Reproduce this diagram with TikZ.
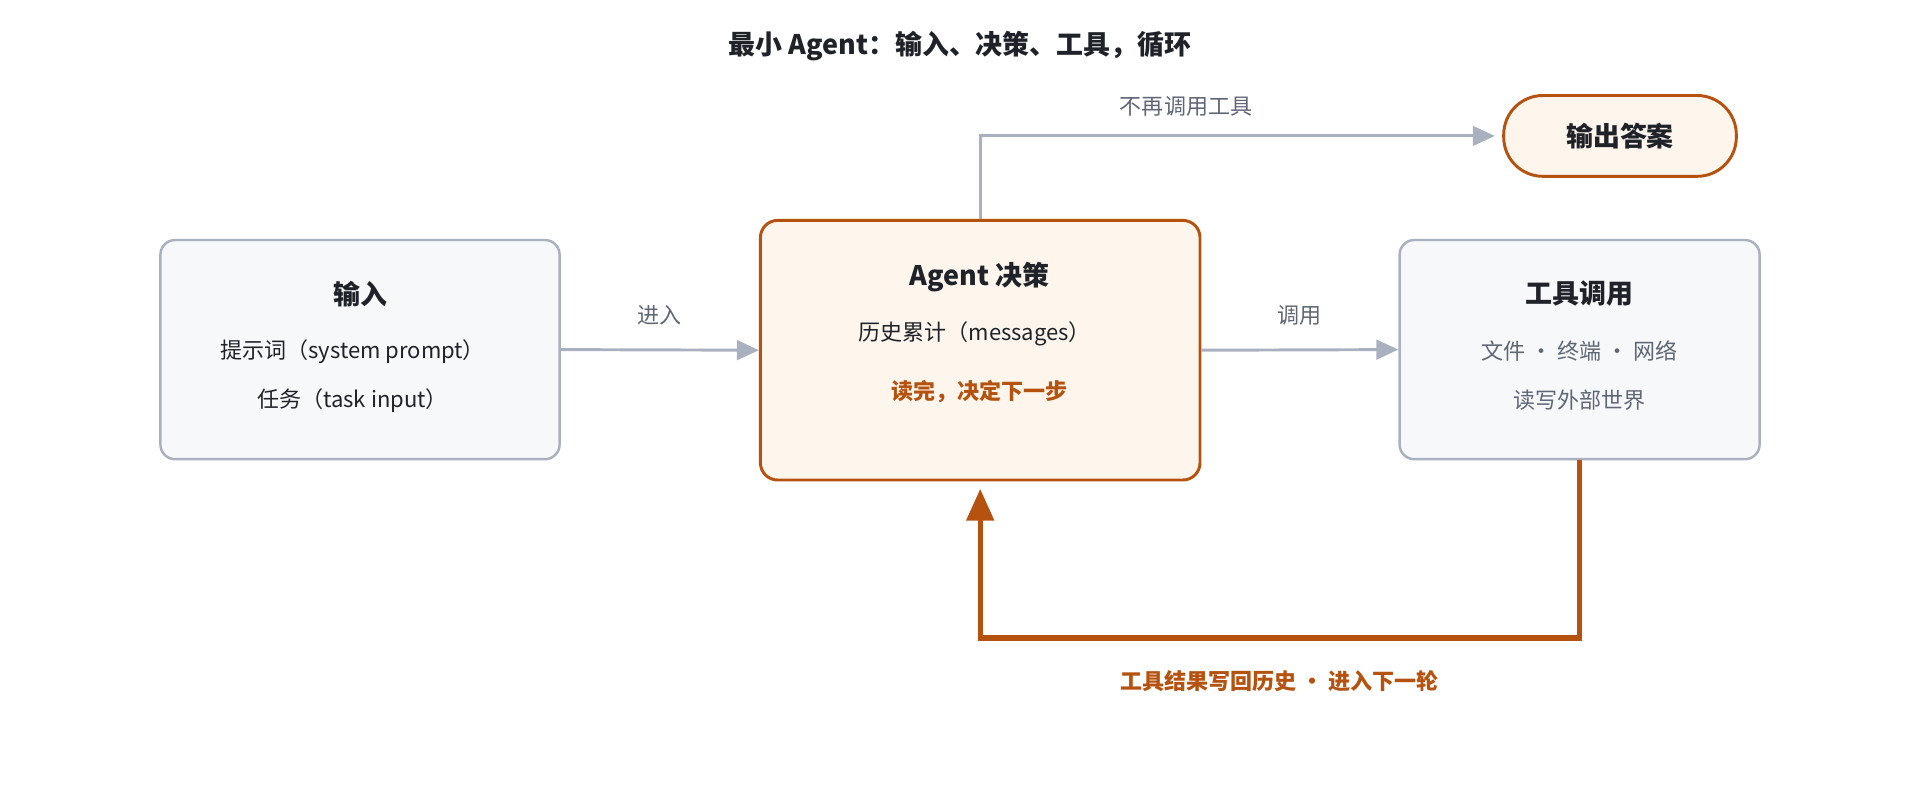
\documentclass[tikz,border=0pt]{standalone}
\usepackage{fontspec}
\setmainfont{Noto Sans CJK SC}
\usetikzlibrary{arrows.meta}
\definecolor{boxline}{HTML}{A9B0BF}
\definecolor{boxfill}{HTML}{F7F8FA}
\definecolor{agline}{HTML}{B5520F}
\definecolor{agfill}{HTML}{FEF6EC}
\definecolor{ink}{HTML}{1F2329}
\definecolor{muted}{HTML}{5F6675}
\tikzset{
  box/.style={draw=boxline,fill=boxfill,line width=1pt,rounded corners=6pt},
  abox/.style={draw=agline,fill=agfill,line width=1.2pt,rounded corners=7pt},
  head/.style={font=\fontsize{11}{13}\selectfont\bfseries,text=ink},
  txt/.style={font=\fontsize{9}{11}\selectfont,text=ink},
  lbl/.style={font=\fontsize{9}{11}\selectfont,text=muted},
  flow/.style={draw=boxline,line width=1.2pt,-{Triangle[length=9pt,width=8pt]}},
  back/.style={draw=agline,line width=2.2pt,-{Triangle[length=13pt,width=11pt]}}
}
\begin{document}
\begin{tikzpicture}[x=0.5pt,y=-0.5pt]
\useasboundingbox (0,0) rectangle (1568,653);
\node[head] (title) at (784,38) {最小 Agent：输入、决策、工具，循环};
% boxes
\node[box,minimum width=163pt,minimum height=89.5pt] (in) at (294,285.5) {};
\node[abox,minimum width=179.5pt,minimum height=106pt] (ag) at (800.5,286) {};
\node[box,minimum width=147pt,minimum height=89.5pt] (tl) at (1290,285.5) {};
\node[abox,rounded corners=16pt,minimum width=95pt,minimum height=33pt] (out) at (1323,111) {};
% texts
\node[head] (inh) at (294,240) {输入};
\node[txt] (in1) at (288,287) {提示词（system prompt）};
\node[txt] (in2) at (288,327) {任务（task input）};
\node[head] (agh) at (800,226) {Agent 决策};
\node[txt] (ag1) at (796,273) {历史累计（messages）};
\node[txt,font=\fontsize{9}{11}\selectfont\bfseries,text=agline] (ag2) at (800,320) {读完，决定下一步};
\node[head] (tlh) at (1290,240) {工具调用};
\node[lbl] (tl1) at (1290,287) {文件 · 终端 · 网络};
\node[lbl] (tl2) at (1290,327) {读写外部世界};
\node[head] (outh) at (1323,111) {输出答案};
% connectors
\draw[flow] (in.east) -- node[lbl,above=6pt]{进入} (ag.west);
\draw[flow] (ag.east) -- node[lbl,above=6pt]{调用} (tl.west);
\draw[flow] (ag.north) |- node[lbl,pos=0.7,above=4pt]{不再调用工具} ([xshift=-3pt]out.west);
\coordinate (fb) at (1290,521);
\draw[back] (tl.south) -- (fb) -| ([yshift=-3pt]ag.south);
\node[txt,font=\fontsize{9}{11}\selectfont\bfseries,text=agline] (fbl) at (1045,556) {工具结果写回历史 · 进入下一轮};
\end{tikzpicture}
\end{document}
